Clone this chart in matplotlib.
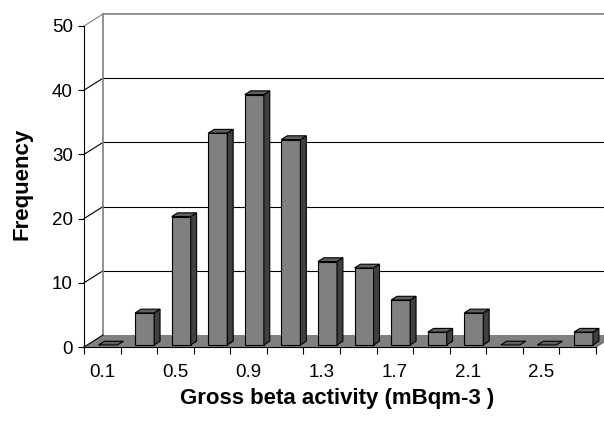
import numpy as np
import matplotlib.pyplot as plt
from matplotlib.patches import Polygon

# Data
bins = [0.1, 0.3, 0.5, 0.7, 0.9, 1.1, 1.3, 1.5, 1.7, 1.9, 2.1, 2.3, 2.5, 2.7]
freq = [0, 5, 20, 33, 39, 32, 13, 12, 7, 2, 5, 0, 0, 2]
yticks = [0, 10, 20, 30, 40, 50]

W, H = 604, 428
fig = plt.figure(figsize=(W / 100, H / 100), dpi=100)
plt.rcParams['font.family'] = ['Liberation Sans', 'DejaVu Sans']

# front plane of the 3d box, in pixels
x0, x1, ytop, ybot = 84, 596, 26, 347
ax = fig.add_axes([x0 / W, (H - ybot) / H, (x1 - x0) / W, (ybot - ytop) / H])
n = len(bins)
ax.set_xlim(0, n)
ax.set_ylim(0, 50)

# depth offset (in data units)
DX = 19 / ((x1 - x0) / n)
DY = 12 / ((ybot - ytop) / 50)

for s in ['top', 'right']:
    ax.spines[s].set_visible(False)
ax.spines['left'].set_color('black')
ax.spines['bottom'].set_color('black')
ax.patch.set_visible(False)

ax.set_yticks(yticks)
ax.tick_params(axis='y', direction='out', length=4, width=0.8, pad=4, labelsize=13.5)
ax.set_xticks(np.arange(n + 1))
ax.set_xticklabels([])
ax.tick_params(axis='x', which='major', direction='out', length=5, width=0.8)
ax.set_xticks(np.arange(0, n, 2) + 0.5, minor=True)
ax.set_xticklabels([f"{b:.1f}" for b in bins[::2]], minor=True)
ax.tick_params(axis='x', which='minor', length=0, pad=12, labelsize=13.5)

# walls and gridlines
for v in yticks[1:]:
    c = '#808080' if v == 50 else 'black'
    ax.plot([0, DX], [v, v + DY], color=c, lw=0.8, clip_on=False, zorder=1)
    ax.plot([DX, n + DX + 1], [v + DY, v + DY], color=c, lw=0.8 if v < 50 else 1.2,
            clip_on=False, zorder=1)
ax.plot([DX, DX], [DY, 50 + DY], color='#808080', lw=1.2, clip_on=False, zorder=1)

floor = Polygon([(0, 0), (n, 0), (n + DX, DY), (DX, DY)], closed=True,
                facecolor='#808080', edgecolor='none', clip_on=False, zorder=2)
ax.add_patch(floor)
ax.plot([0, DX], [0, DY], color='black', lw=0.8, clip_on=False, zorder=2)
ax.plot([n, n + DX], [0, DY], color='#606060', lw=0.8, clip_on=False, zorder=2)

# 3d columns
f0, f1 = 0.17, 0.48
bw, boff = 0.52, 0.31
for i, v in enumerate(freq):
    bx0 = i + boff
    bx1 = bx0 + bw
    top = [(bx0 + f0 * DX, v + f0 * DY), (bx1 + f0 * DX, v + f0 * DY),
           (bx1 + f1 * DX, v + f1 * DY), (bx0 + f1 * DX, v + f1 * DY)]
    if v > 0:
        front = [(bx0 + f0 * DX, f0 * DY), (bx1 + f0 * DX, f0 * DY),
                 (bx1 + f0 * DX, v + f0 * DY), (bx0 + f0 * DX, v + f0 * DY)]
        side = [(bx1 + f0 * DX, f0 * DY), (bx1 + f1 * DX, f1 * DY),
                (bx1 + f1 * DX, v + f1 * DY), (bx1 + f0 * DX, v + f0 * DY)]
        ax.add_patch(Polygon(front, closed=True, facecolor='#808080', edgecolor='black',
                             lw=0.8, clip_on=False, zorder=3))
        ax.add_patch(Polygon(side, closed=True, facecolor='#404040', edgecolor='black',
                             lw=0.8, clip_on=False, zorder=3))
    ax.add_patch(Polygon(top, closed=True, facecolor='#606060', edgecolor='black',
                         lw=0.8, clip_on=False, zorder=3))

fig.text(22 / W, 1 - 184 / H, 'Frequency', rotation=90, ha='center', va='center',
         fontsize=16, fontweight='bold')
fig.text(337 / W, 1 - 404 / H, 'Gross beta activity (mBqm-3 )', ha='center', va='baseline',
         fontsize=16, fontweight='bold')

fig.savefig('out.png', dpi=100)
